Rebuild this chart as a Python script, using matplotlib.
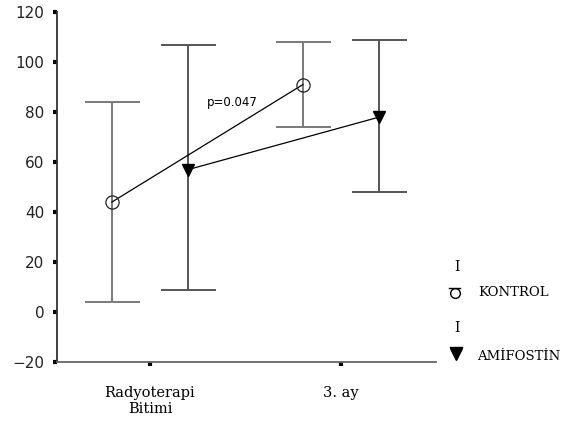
import matplotlib.pyplot as plt
from matplotlib.lines import Line2D

# data
categories = ['Radyoterapi\nBitimi', '3. ay']
kontrol_mean = [44, 91]
kontrol_low = [4, 74]
kontrol_high = [84, 108]
amifostin_mean = [57, 78]
amifostin_low = [9, 48]
amifostin_high = [107, 109]
yticks = [-20, 0, 20, 40, 60, 80, 100, 120]

fig = plt.figure(figsize=(5.72, 4.32), dpi=100)
ax = fig.add_axes([0.0997, 0.162, 0.6625, 0.81])

x = [1, 2]
off = 0.2
xk = [v - off for v in x]
xa = [v + off for v in x]

k_err = [[m - l for m, l in zip(kontrol_mean, kontrol_low)],
         [h - m for m, h in zip(kontrol_mean, kontrol_high)]]
a_err = [[m - l for m, l in zip(amifostin_mean, amifostin_low)],
         [h - m for m, h in zip(amifostin_mean, amifostin_high)]]

ax.errorbar(xk, kontrol_mean, yerr=k_err, fmt='none', ecolor='#7a7a7a',
            elinewidth=1.4, capsize=19.8, capthick=1.4, zorder=1)
ax.errorbar(xa, amifostin_mean, yerr=a_err, fmt='none', ecolor='#555555',
            elinewidth=1.4, capsize=19.8, capthick=1.4, zorder=1)

ax.plot(xk, kontrol_mean, color='black', lw=0.9, marker='o', ms=9.5,
        mfc='none', mec='#222222', mew=0.9, zorder=3)
ax.plot(xa, amifostin_mean, color='black', lw=0.9, marker='v', ms=9,
        mfc='black', mec='black', zorder=3)

ax.text(1.30, 84, 'p=0.047', fontsize=8.5, family='DejaVu Sans',
        ha='left', va='center')

ax.set_xlim(0.513, 2.497)
ax.set_ylim(-20, 120)
ax.set_yticks(yticks)
ax.set_xticks(x)
ax.set_xticklabels(categories, family='DejaVu Serif', fontsize=10.5)
for lab in ax.get_yticklabels():
    lab.set_family('DejaVu Sans')
    lab.set_fontsize(11)
    lab.set_color('#222222')

ax.spines['top'].set_visible(False)
ax.spines['right'].set_visible(False)
ax.spines['left'].set_color('#333333')
ax.spines['bottom'].set_color('#666666')
ax.spines['left'].set_linewidth(1.3)
ax.spines['bottom'].set_linewidth(1.3)
ax.tick_params(axis='both', length=3, width=3, color='black', direction='out')
ax.tick_params(axis='y', pad=6)
ax.tick_params(axis='x', pad=14)

# hand-made legend at the right
for yy in (0.382, 0.241):
    fig.text(0.799, yy, 'I', family='DejaVu Serif', fontsize=10,
             ha='center', va='center')
fig.add_artist(Line2D([0.795], [0.322], transform=fig.transFigure,
                      marker='o', ms=7, mfc='none', mec='black', mew=1.0, ls='none'))
fig.add_artist(Line2D([0.785, 0.805], [0.334, 0.334], transform=fig.transFigure,
                      color='black', lw=1.0))
fig.add_artist(Line2D([0.797], [0.181], transform=fig.transFigure,
                      marker='v', ms=9, mfc='black', mec='black', ls='none'))
fig.add_artist(Line2D([0.786, 0.808], [0.196, 0.196], transform=fig.transFigure,
                      color='black', lw=1.0))
fig.text(0.836, 0.324, 'KONTROL', family='DejaVu Serif', fontsize=9.5,
         ha='left', va='center')
fig.text(0.834, 0.174, 'AMİFOSTİN', family='DejaVu Serif', fontsize=9.5,
         ha='left', va='center')

fig.savefig('out.png', dpi=100)
